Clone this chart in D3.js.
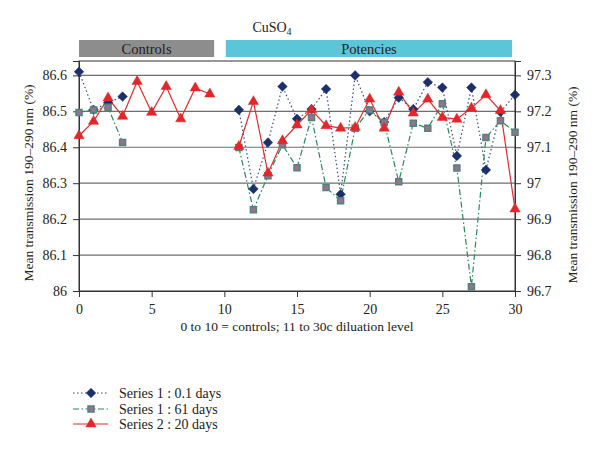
<!DOCTYPE html>
<html><head><meta charset="utf-8">
<script src="https://cdn.jsdelivr.net/npm/d3@7"></script>
<style>body{margin:0;background:#fff}svg{display:block}text{font-family:"Liberation Serif","DejaVu Serif",serif;fill:#222}</style>
</head><body>
<svg id="c" width="600" height="454"></svg>
<script>
const xValues = d3.range(0,31);
const series01 = [86.61,86.504,86.524,86.541,null,null,null,null,null,null,null,
  86.504,86.284,86.413,86.569,86.479,86.506,86.562,86.269,86.600,86.50,
  86.47,86.538,86.506,86.581,86.566,86.376,86.566,86.337,86.498,86.546];
const series61 = [86.497,86.504,86.511,86.413,null,null,null,null,null,null,null,
  86.399,86.226,86.321,86.407,86.343,86.483,86.288,86.251,86.453,86.504,
  86.469,86.304,86.467,86.453,86.521,86.342,86.012,86.427,86.474,86.442];
const series20 = [97.132,97.172,97.237,97.186,97.283,97.197,97.269,97.179,97.265,97.248,null,
  97.102,97.227,97.028,97.118,97.162,97.204,97.160,97.153,97.155,97.234,
  97.153,97.253,97.195,97.234,97.183,97.178,97.209,97.246,97.202,96.928];
const leftTicks = [86,86.1,86.2,86.3,86.4,86.5,86.6];
const rightTicks = [96.7,96.8,96.9,97,97.1,97.2,97.3];
const xTicks = [0,5,10,15,20,25,30];
const headers = [{label:"Controls",from:0,to:9.3,color:"#8d8d8d"},{label:"Potencies",from:10.1,to:29.8,color:"#5bc6d7"}];
const legendLabels = ["Series 1 : 0.1 days","Series 1 : 61 days","Series 2 : 20 days"];

const svg = d3.select("#c");
const L=79,R=515,T=61,B=291;
const x = d3.scaleLinear().domain([0,30]).range([L,R]);
const yL = d3.scaleLinear().domain([86,86.64]).range([B,T]);
const yR = d3.scaleLinear().domain([96.7,97.34]).range([B,T]);

svg.append("text").attr("x",272).attr("y",32).attr("text-anchor","middle").attr("font-size",14)
  .html('CuSO<tspan font-size="10" dy="3">4</tspan>');
headers.forEach(h=>{
  svg.append("rect").attr("x",x(h.from)).attr("y",40).attr("width",x(h.to)-x(h.from)).attr("height",17).attr("fill",h.color);
  svg.append("text").attr("x",(x(h.from)+x(h.to))/2).attr("y",53.5).attr("text-anchor","middle").attr("font-size",14.5).text(h.label);
});
svg.append("g").selectAll("line").data(leftTicks.slice(1)).join("line")
  .attr("x1",L).attr("x2",R).attr("y1",d=>yL(d)).attr("y2",d=>yL(d)).attr("stroke","#6e6e6e").attr("stroke-width",1.2);
svg.append("rect").attr("x",L).attr("y",T).attr("width",R-L).attr("height",B-T).attr("fill","none").attr("stroke","#333").attr("stroke-width",1);

const fmt = d=>d3.format("")(+d.toFixed(1));
const gl = svg.append("g").attr("transform",`translate(${L},0)`).call(d3.axisLeft(yL).tickValues(leftTicks).tickSize(6).tickFormat(fmt));
const gr = svg.append("g").attr("transform",`translate(${R},0)`).call(d3.axisRight(yR).tickValues(rightTicks).tickSize(6).tickFormat(fmt));
const gx = svg.append("g").attr("transform",`translate(0,${B})`).call(d3.axisBottom(x).tickValues(xTicks).tickSize(6));
[gl,gr,gx].forEach(g=>{
  g.select(".domain").attr("stroke","#333");
  g.selectAll(".tick line").attr("stroke","#333");
  g.selectAll("text").attr("font-size",14).attr("fill","#222");
});
gl.selectAll("text").attr("x",-12);
gr.selectAll("text").attr("x",12);
gx.selectAll("text").attr("y",13);

svg.append("text").attr("transform","translate(33,183) rotate(-90)").attr("text-anchor","middle").attr("font-size",13.5).text("Mean transmission 190–290 nm (%)");
svg.append("text").attr("transform","translate(577,185) rotate(-90)").attr("text-anchor","middle").attr("font-size",13.5).text("Mean transmission 190–290 nm (%)");
svg.append("text").attr("x",297).attr("y",331).attr("text-anchor","middle").attr("font-size",13.5).text("0 to 10 = controls; 11 to 30c diluation level");

const styles = [
  {data:series01,y:yL,stroke:"#3a4a8a",dash:"1.5,2.5",sym:d3.symbolSquare,rot:45,size:46,fill:"#1c2f6b",mstroke:"#1c2f6b",sw:0.5},
  {data:series61,y:yL,stroke:"#2a8a5a",dash:"6,2.5,1.5,2.5",sym:d3.symbolSquare,rot:0,size:36,fill:"#9a6f96",mstroke:"#4f8576",sw:1.5},
  {data:series20,y:yR,stroke:"#e32b2b",dash:null,sym:d3.symbolTriangle,rot:0,size:46,fill:"#e3262a",mstroke:"#e3262a",sw:0.5}
];
styles.forEach(s=>{
  const pts = xValues.map((v,i)=>({x:v,v:s.data[i]}));
  const line = d3.line().defined(d=>d.v!=null).x(d=>x(d.x)).y(d=>s.y(d.v));
  svg.append("path").attr("d",line(pts)).attr("fill","none").attr("stroke",s.stroke).attr("stroke-width",1.2).attr("stroke-dasharray",s.dash);
});
styles.forEach(s=>{
  const pts = xValues.map((v,i)=>({x:v,v:s.data[i]})).filter(d=>d.v!=null);
  svg.append("g").selectAll("path").data(pts).join("path")
    .attr("d",d3.symbol(s.sym,s.size)).attr("transform",d=>`translate(${x(d.x)},${s.y(d.v)}) rotate(${s.rot})`)
    .attr("fill",s.fill).attr("stroke",s.mstroke).attr("stroke-width",s.sw);
});

const ly=[393,409,424];
styles.forEach((s,i)=>{
  svg.append("line").attr("x1",73).attr("x2",108).attr("y1",ly[i]).attr("y2",ly[i]).attr("stroke",s.stroke).attr("stroke-width",1.2).attr("stroke-dasharray",s.dash);
  svg.append("path").attr("d",d3.symbol(s.sym,s.size)).attr("transform",`translate(91,${ly[i]}) rotate(${s.rot})`).attr("fill",s.fill).attr("stroke",s.mstroke).attr("stroke-width",s.sw);
  svg.append("text").attr("x",119).attr("y",ly[i]+4.5).attr("font-size",14).text(legendLabels[i]);
});
</script>
</body></html>
